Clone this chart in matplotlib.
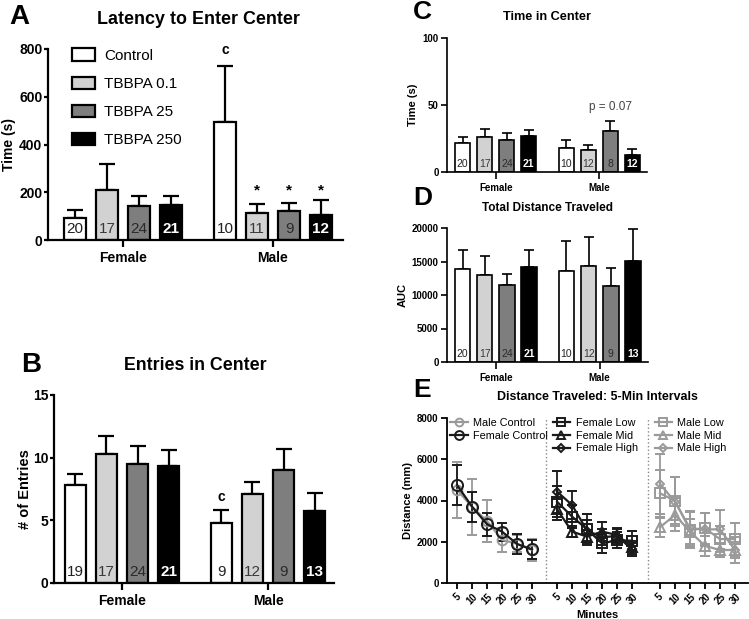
import numpy as np
import matplotlib
matplotlib.use("Agg")
import matplotlib.pyplot as plt
from matplotlib.patches import Patch
from matplotlib.lines import Line2D

plt.rcParams['font.family'] = ['Liberation Sans', 'DejaVu Sans']
plt.rcParams['font.weight'] = 'bold'
plt.rcParams['axes.labelweight'] = 'bold'

# ---- data ----
sexes = ['Female', 'Male']
treatments = ['Control', 'TBBPA 0.1', 'TBBPA 25', 'TBBPA 250']
bar_colors = ['white', '#d2d2d2', '#7e7e7e', 'black']
n_colors = ['#222222', '#3a3a3a', '#2a2a2a', 'white']

latency_mean = [[92, 211, 141, 145], [493, 112, 122, 106]]
latency_sem = [[32, 108, 44, 40], [236, 38, 35, 60]]
latency_n = [[20, 17, 24, 21], [10, 11, 9, 12]]

entries_mean = [[7.8, 10.3, 9.5, 9.3], [4.8, 7.1, 9.0, 5.75]]
entries_sem = [[0.9, 1.4, 1.4, 1.3], [1.05, 0.95, 1.7, 1.45]]
entries_n = [[19, 17, 24, 21], [9, 12, 9, 13]]

tic_mean = [[21.6, 26.0, 23.6, 26.6], [18.0, 16.7, 30.6, 12.4]]
tic_sem = [[4.4, 6.0, 5.4, 5.0], [6.0, 3.3, 7.4, 4.6]]
tic_n = [[20, 17, 24, 21], [10, 12, 8, 12]]

auc_mean = [[13880, 12935, 11540, 14180], [13580, 14380, 11340, 15075]]
auc_sem = [[2840, 2935, 1640, 2590], [4430, 4330, 2690, 4725]]
auc_n = [[20, 17, 24, 21], [10, 12, 9, 13]]

minutes = [5, 10, 15, 20, 25, 30]
male_control = [4520, 3690, 3000, 2090, 1900, 1600]
male_control_sem = [1350, 1360, 1025, 600, 420, 550]
female_control = [4750, 3700, 2850, 2490, 1890, 1630]
female_control_sem = [980, 720, 560, 430, 480, 470]
female_low = [3940, 3220, 2600, 1920, 2080, 2050]
female_low_sem = [750, 550, 750, 450, 400, 450]
female_mid = [3570, 2490, 2250, 2490, 2330, 1730]
female_mid_sem = [500, 250, 300, 450, 350, 300]
female_high = [4430, 3780, 2540, 2220, 2280, 1630]
female_high_sem = [1020, 700, 500, 400, 350, 300]
male_low = [4350, 3990, 2570, 2650, 2130, 2130]
male_low_sem = [1150, 1150, 850, 750, 650, 800]
male_mid = [2700, 3300, 2490, 1800, 1600, 1600]
male_mid_sem = [450, 800, 600, 500, 350, 400]
male_high = [4800, 3940, 2650, 2600, 2600, 1600]
male_high_sem = [1450, 1200, 850, 800, 950, 650]

W, H = 749, 619
fig = plt.figure(figsize=(W / 100, H / 100), dpi=100)


def px_axes(l, t, r, b):
    return fig.add_axes([l / W, 1 - b / H, (r - l) / W, (b - t) / H])


def style_axes(ax, lw, fs, tlen=4, pad=2):
    for s in ['top', 'right']:
        ax.spines[s].set_visible(False)
    for s in ['left', 'bottom']:
        ax.spines[s].set_linewidth(lw)
    ax.tick_params(axis='both', direction='out', width=lw, length=tlen, labelsize=fs, pad=pad)


def bar_panel(ax, means, sems, ns, width, lw, capsize, n_fs, ylim, yticks, tick_fs, xlim,
              tlen=4, pad=2):
    offsets = np.array([-0.32, -0.107, 0.107, 0.32])
    for g in range(2):
        x = g + offsets
        ax.bar(x, means[g], width=width, color=bar_colors, edgecolor='black',
               linewidth=lw, zorder=2)
        ax.errorbar(x, means[g], yerr=[np.zeros(4), sems[g]], fmt='none',
                    ecolor='black', elinewidth=lw, capsize=capsize, capthick=lw, zorder=1)
        for i in range(4):
            ax.text(x[i], 0.02, str(ns[g][i]), transform=ax.get_xaxis_transform(),
                    ha='center', va='bottom', fontsize=n_fs, color=n_colors[i],
                    fontweight='bold' if i == 3 else 'normal')
    ax.set_xlim(*xlim)
    ax.set_ylim(*ylim)
    ax.set_yticks(yticks)
    ax.set_xticks([0, 1])
    ax.set_xticklabels(sexes)
    style_axes(ax, lw, tick_fs, tlen, pad)
    ax.tick_params(axis='x', length=5, pad=3)


# ---- A ----
axA = px_axes(48, 49, 343, 240)
bar_panel(axA, latency_mean, latency_sem, latency_n, 0.152, 1.6, 6, 11,
          (0, 800), [0, 200, 400, 600, 800], 10, (-0.5, 1.467), tlen=3, pad=1)
axA.set_ylabel('Time (s)', fontsize=10)
axA.yaxis.set_label_coords(-0.108, 0.5)
axA.text(1 - 0.32, 765, 'c', ha='center', va='bottom', fontsize=10)
for i in range(1, 4):
    axA.text(1 + [-0.32, -0.107, 0.107, 0.32][i], 178, '*', ha='center', va='bottom', fontsize=11)
handles = [Patch(facecolor=c, edgecolor='black', linewidth=1.6) for c in bar_colors]
axA.legend(handles, treatments, loc='upper left', bbox_to_anchor=(0.035, 1.075),
           frameon=False, prop={'weight': 'normal', 'size': 11},
           handlelength=1.5, handleheight=0.85, labelspacing=0.9, handletextpad=0.6)
fig.text(198 / W, 1 - 19 / H, 'Latency to Enter Center', ha='center', va='center', fontsize=12.9)
fig.text(9 / W, 1 - 17 / H, 'A', ha='left', va='center', fontsize=20)

# ---- B ----
axB = px_axes(54, 395, 334, 583)
bar_panel(axB, entries_mean, entries_sem, entries_n, 0.145, 1.6, 6, 11,
          (0, 15), [0, 5, 10, 15], 10, (-0.466, 1.452), tlen=3, pad=1)
axB.set_ylabel('# of Entries', fontsize=10.5)
axB.yaxis.set_label_coords(-0.079, 0.5)
axB.text(1 - 0.32, 6.3, 'c', ha='center', va='bottom', fontsize=10)
fig.text(195 / W, 1 - 366 / H, 'Entries in Center', ha='center', va='center', fontsize=12.8)
fig.text(21 / W, 1 - 365 / H, 'B', ha='left', va='center', fontsize=20)

# ---- C ----
axC = px_axes(447, 38, 647, 172)
bar_panel(axC, tic_mean, tic_sem, tic_n, 0.145, 1.2, 3.5, 7.5,
          (0, 100), [0, 50, 100], 7, (-0.47, 1.46))
axC.set_ylabel('Time (s)', fontsize=8, labelpad=3)
axC.text(1 + 0.107, 44, 'p = 0.07', ha='center', va='bottom', fontsize=8.5,
         fontweight='normal', color='#444444')
fig.text(547 / W, 1 - 17 / H, 'Time in Center', ha='center', va='center', fontsize=9.2)
fig.text(413 / W, 1 - 12 / H, 'C', ha='left', va='center', fontsize=19)

# ---- D ----
axD = px_axes(447, 228, 648, 362)
bar_panel(axD, auc_mean, auc_sem, auc_n, 0.15, 1.2, 3.5, 7.5,
          (0, 20000), [0, 5000, 10000, 15000, 20000], 7, (-0.47, 1.465))
axD.set_ylabel('AUC', fontsize=8, labelpad=3)
fig.text(548 / W, 1 - 208 / H, 'Total Distance Traveled', ha='center', va='center', fontsize=8.5)
fig.text(413 / W, 1 - 198 / H, 'D', ha='left', va='center', fontsize=19)

# ---- E ----
axE = px_axes(447, 418, 748, 583)
sub_start = [0, 6.67, 13.53]
idx = np.arange(len(minutes))
dark = '#1a1a1a'
light = '#9a9a9a'
series = [
    (0, male_control, male_control_sem, light, 'o', 7, 'Male Control'),
    (0, female_control, female_control_sem, dark, 'o', 8, 'Female Control'),
    (1, female_low, female_low_sem, dark, 's', 6.5, 'Female Low'),
    (1, female_mid, female_mid_sem, dark, '^', 6.5, 'Female Mid'),
    (1, female_high, female_high_sem, dark, 'D', 4.5, 'Female High'),
    (2, male_low, male_low_sem, light, 's', 6.5, 'Male Low'),
    (2, male_mid, male_mid_sem, light, '^', 6.5, 'Male Mid'),
    (2, male_high, male_high_sem, light, 'D', 4.5, 'Male High'),
]
leg_handles = [[], [], []]
for sub, vals, sem, col, mk, ms, lab in series:
    x = sub_start[sub] + idx
    axE.errorbar(x, vals, yerr=sem, color=col, marker=mk, ms=ms, mfc='none', mec=col,
                 mew=1.4, lw=1.6, elinewidth=1.3, capsize=3.5, capthick=1.3)
    leg_handles[sub].append(Line2D([0], [0], color=col, marker=mk, ms=ms * 0.8, mfc='none',
                                   mec=col, mew=1.4, lw=1.6, label=lab))
for xv in [5.93, 12.73]:
    axE.axvline(xv, color='#888888', ls=':', lw=1)
axE.set_xlim(-0.67, 19.4)
axE.set_ylim(0, 8000)
axE.set_yticks([0, 2000, 4000, 6000, 8000])
axE.set_xticks(np.concatenate([s + idx for s in sub_start]))
axE.set_xticklabels([str(m) for m in minutes] * 3, rotation=45, ha='center')
style_axes(axE, 1.3, 7)
axE.set_ylabel('Distance (mm)', fontsize=8, labelpad=3)
axE.set_xlabel('Minutes', fontsize=8, labelpad=3)
legs = []
for k, xa in enumerate([-0.01, 0.33, 0.668]):
    leg = axE.legend(handles=leg_handles[k], loc='upper left', bbox_to_anchor=(xa, 1.04),
                     frameon=False, prop={'weight': 'normal', 'size': 7.8},
                     handlelength=1.6, handletextpad=0.5, labelspacing=0.25, borderpad=0.1)
    legs.append(leg)
for leg in legs[:-1]:
    axE.add_artist(leg)
fig.text(597 / W, 1 - 397 / H, 'Distance Traveled: 5-Min Intervals', ha='center', va='center', fontsize=8.9)
fig.text(413 / W, 1 - 390 / H, 'E', ha='left', va='center', fontsize=19)

fig.savefig('out.png', dpi=100)
